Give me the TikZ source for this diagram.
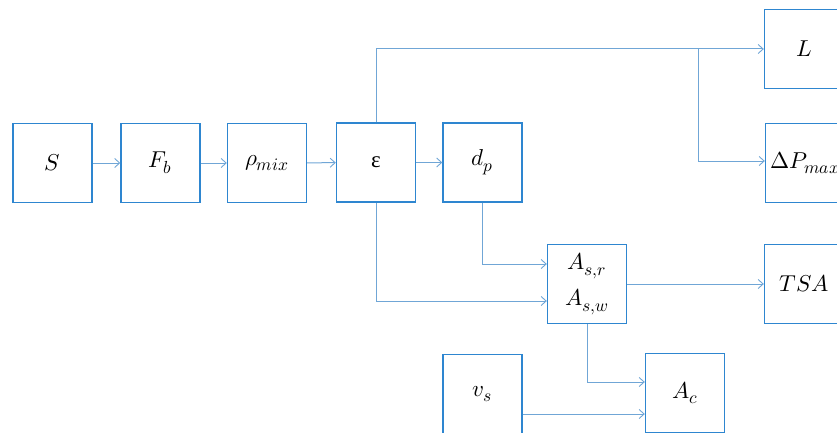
\documentclass[tikz,border=0pt]{standalone}
\usepackage{unicode-math}
\setmathfont{Latin Modern Math}
\DeclareMathSizes{23}{23}{17.5}{13}
\usetikzlibrary{arrows.meta,calc}
\newfontfamily\grkfont{Liberation Serif}
\definecolor{boxblue}{RGB}{46,134,208}
\definecolor{lineblue}{RGB}{112,166,214}
\begin{document}
\begin{tikzpicture}[x=1pt,y=-1pt,
  blk/.style={draw=boxblue,line width=1.4pt,minimum width=79pt,minimum height=79pt,inner sep=0pt,fill=white,font=\fontsize{23}{27}\selectfont},
  conn/.style={draw=lineblue,line width=1pt,-{Straight Barb[length=5pt,width=9pt,line width=0.9pt]}}]
\useasboundingbox (0,0) rectangle (837,433);
\node[blk] (S) at (52.5,163) {$S$};
\node[blk] (Fb) at (160.5,163) {$F_b$};
\node[blk] (rho) at (267,163) {$\rho_{mix}$};
\node[blk] (eps) at (376,162.5) {\grkfont ε};
\node[blk] (dp) at (482.5,162.5) {$d_p$};
\node[blk] (L) at (804,49) {$L$};
\node[blk] (DP) at (805,163) {$\Delta P_{max}$};
\node[blk,align=center] (A) at (587,284) {$A_{s,r}$\\[9pt]$A_{s,w}$};
\node[blk] (TSA) at (804,284) {$TSA$};
\node[blk] (Ac) at (685,393) {$A_c$};
\node[blk] (vs) at (482.5,394) {$v_s$};
\coordinate (br) at (698,49);
\coordinate (vsout) at ($(vs.east)+(0,20)$);
\draw[conn] (S) -- (Fb);
\draw[conn] (Fb) -- (rho);
\draw[conn] (rho) -- (eps);
\draw[conn] (eps) -- (dp);
\draw[conn] (eps.north) |- (L.west);
\draw[conn] (br) |- ($(DP.west)+(0,-2)$);
\draw[conn] (dp.south) |- ($(A.west)+(0,-20)$);
\draw[conn] (eps.south) |- ($(A.west)+(0,17)$);
\draw[conn] (A) -- (TSA);
\draw[conn] (A.south) |- ($(Ac.west)+(0,-11)$);
\draw[conn] (vsout) -- (vsout -| Ac.west);
\end{tikzpicture}
\end{document}
